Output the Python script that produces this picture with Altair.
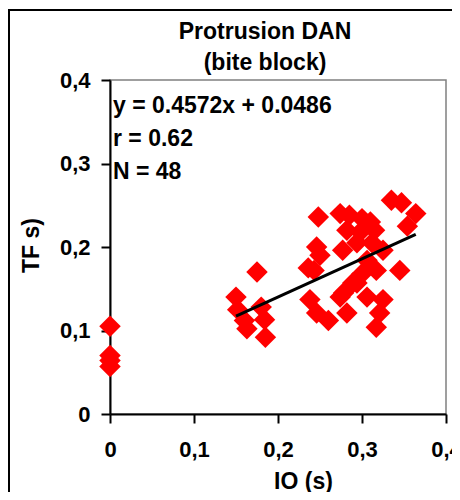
import altair as alt
import pandas as pd

# ---- data ----
io_zero = [0.0, 0.0, 0.0, 0.0]
tf_zero = [0.105, 0.070, 0.064, 0.057]

io_vals = [
    0.150, 0.152, 0.160, 0.163, 0.175, 0.180, 0.184, 0.185,
    0.248, 0.246, 0.250, 0.236, 0.243, 0.238, 0.246, 0.260,
    0.274, 0.285, 0.300, 0.310, 0.282, 0.298, 0.315, 0.294, 0.312,
    0.325, 0.277, 0.306, 0.300, 0.289, 0.278, 0.274, 0.282, 0.294,
    0.306, 0.325, 0.321, 0.317, 0.317,
    0.335, 0.347, 0.364, 0.354, 0.345,
]
tf_vals = [
    0.140, 0.125, 0.112, 0.102, 0.170, 0.128, 0.113, 0.092,
    0.236, 0.200, 0.190, 0.175, 0.172, 0.137, 0.121, 0.112,
    0.240, 0.238, 0.234, 0.230, 0.220, 0.218, 0.220, 0.205, 0.205,
    0.196, 0.196, 0.184, 0.168, 0.157, 0.145, 0.140, 0.121, 0.157,
    0.140, 0.137, 0.121, 0.104, 0.172,
    0.256, 0.253, 0.240, 0.225, 0.172,
]

slope = 0.4572
intercept = 0.0486
r_value = 0.62
n_value = 48

title_lines = ["Protrusion DAN", "(bite block)"]
x_title = "IO (s)"
y_title = "TF s)"
tick_values = [0, 0.1, 0.2, 0.3, 0.4]

FONT = "Liberation Sans"

pts = pd.DataFrame({"io": io_zero + io_vals, "tf": tf_zero + tf_vals})
xmin, xmax = min(io_vals), max(io_vals)
fit = pd.DataFrame({"io": [xmin, xmax], "tf": [slope * xmin + intercept, slope * xmax + intercept]})
annotation_lines = [f"y = {slope}x + {intercept}", f"r = {r_value}", f"N = {n_value}"]

label_expr = "datum.value == 0 ? '0' : replace(format(datum.value, '.1f'), '.', ',')"

xscale = alt.Scale(domain=[0, 0.4], nice=False, zero=False)
yscale = alt.Scale(domain=[0, 0.4], nice=False, zero=False)

common_axis = dict(
    values=tick_values, labelExpr=label_expr, grid=False,
    domainColor="black", domainWidth=2, tickColor="black", tickWidth=2, tickSize=9,
    labelFont=FONT, labelFontWeight="bold", labelFontSize=22, labelColor="black",
    labelFlush=False, labelOverlap=False,
    titleFont=FONT, titleFontWeight="bold", titleFontSize=23, titleColor="black",
)

xaxis = alt.Axis(title=x_title, labelPadding=16, titleX=193, titleY=74,
                 titleAlign="center", titleBaseline="alphabetic", **common_axis)
yaxis = alt.Axis(title=y_title, labelPadding=11, titleX=-79, titleY=165, titleAngle=270,
                 titleAlign="center", titleBaseline="middle", **common_axis)

frame = alt.Chart(pd.DataFrame({"k": [0]})).mark_rect(
    fill="transparent", stroke="black", strokeWidth=2
).encode(x=alt.value(-101), x2=alt.value(400), y=alt.value(-70), y2=alt.value(430))

points = alt.Chart(pts).mark_point(
    shape="diamond", filled=True, size=460, color="#ff0000", opacity=1
).encode(
    x=alt.X("io:Q", scale=xscale, axis=xaxis),
    y=alt.Y("tf:Q", scale=yscale, axis=yaxis),
)

line = alt.Chart(fit).mark_line(color="black", strokeWidth=3).encode(
    x=alt.X("io:Q", scale=xscale), y=alt.Y("tf:Q", scale=yscale)
)

texts = []
for i, t in enumerate(annotation_lines):
    texts.append(
        alt.Chart(pd.DataFrame({"t": [t]})).mark_text(
            align="left", baseline="alphabetic", font=FONT, fontSize=23,
            fontWeight="bold", color="black"
        ).encode(x=alt.value(3), y=alt.value(33 + 33 * i), text="t:N")
    )

titles = []
for i, t in enumerate(title_lines):
    titles.append(
        alt.Chart(pd.DataFrame({"t": [t]})).mark_text(
            align="center", baseline="alphabetic", font=FONT, fontSize=23,
            fontWeight="bold", color="black"
        ).encode(x=alt.value(155), y=alt.value(-41 + 31 * i), text="t:N")
    )

chart = alt.layer(frame, points, line, *texts, *titles).properties(
    width=336, height=334,
    autosize=alt.AutoSizeParams(type="none"),
    padding={"left": 102, "top": 72, "right": 6, "bottom": 78},
).configure_view(stroke="#808080", strokeWidth=1.5)

chart.save("out.html", embed_options={"renderer": "svg", "actions": False})
